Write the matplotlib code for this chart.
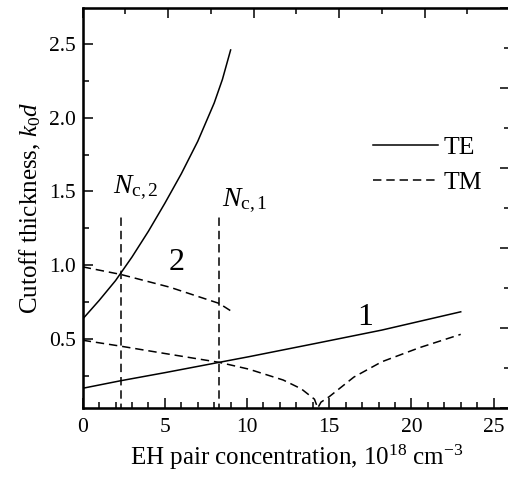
import numpy as np
import matplotlib
matplotlib.use('Agg')
import matplotlib.pyplot as plt
from matplotlib.ticker import MultipleLocator

plt.rcParams['font.family'] = ['Liberation Serif', 'DejaVu Serif']
plt.rcParams['mathtext.fontset'] = 'custom'
plt.rcParams['mathtext.rm'] = 'Liberation Serif'
plt.rcParams['mathtext.it'] = 'Liberation Serif:italic'

# TE mode 1 (lower solid)
te1_x = [0, 2.3, 5.0, 8.3, 10.1, 14.2, 18.2, 23.0]
te1_y = [0.164, 0.215, 0.27, 0.34, 0.378, 0.469, 0.559, 0.683]

# TE mode 2 (upper solid)
te2_x = [0, 1, 2, 3, 4, 5, 6, 7, 8, 8.5, 9.0]
te2_y = [0.634, 0.76, 0.895, 1.055, 1.23, 1.42, 1.62, 1.84, 2.10, 2.26, 2.46]

# TM mode 2 (upper dashed)
tm2_x = [0, 2.3, 5.3, 8.3, 9.0]
tm2_y = [0.988, 0.937, 0.85, 0.74, 0.69]

# TM mode 1 (lower dashed)
tm1_x = [0, 2.3, 5.0, 8.3, 10.1, 12.2, 13.3, 14.1, 14.3, 14.5, 15.0, 16.5, 18.2, 20.5, 23.0]
tm1_y = [0.49, 0.45, 0.40, 0.34, 0.294, 0.22, 0.16, 0.09, 0.03, 0.07, 0.107, 0.24, 0.344, 0.44, 0.53]

# cutoff concentrations
nc2 = 2.3
nc1 = 8.3
nc_top = [1.33, 1.34]

fig = plt.figure(figsize=(5.08, 4.78), dpi=100)
ax = fig.add_axes([0.1628, 0.1464, 0.8412, 0.8369])

lw = 1.1
dash = (0, (5.5, 3.2))
l_te, = ax.plot(te1_x, te1_y, 'k-', lw=lw, label='TE')
ax.plot(te2_x, te2_y, 'k-', lw=lw)
l_tm, = ax.plot(tm1_x, tm1_y, color='k', ls=dash, lw=lw, label='TM')
ax.plot(tm2_x, tm2_y, color='k', ls=dash, lw=lw)
ax.plot([nc2, nc2], [0, nc_top[0]], color='k', ls=dash, lw=lw)
ax.plot([nc1, nc1], [0, nc_top[1]], color='k', ls=dash, lw=lw)

ax.text(1.84, 1.49, r'$N_{\mathrm{c,2}}$', fontsize=20)
ax.text(8.45, 1.40, r'$N_{\mathrm{c,1}}$', fontsize=20)
ax.text(5.71, 0.97, '2', fontsize=23, ha='center')
ax.text(17.2, 0.593, '1', fontsize=23, ha='center')

ax.set_xlim(0, 26)
ax.set_ylim(0.03, 2.745)
ax.xaxis.set_major_locator(MultipleLocator(5))
ax.xaxis.set_minor_locator(MultipleLocator(1))
ax.yaxis.set_major_locator(MultipleLocator(0.5))
ax.yaxis.set_minor_locator(MultipleLocator(0.25))
ax.tick_params(which='both', direction='in', width=1.1, labelsize=15.5)
ax.tick_params(which='major', length=7.5)
ax.tick_params(which='minor', length=4.5)
ax.tick_params(axis='x', pad=7)
ax.tick_params(axis='y', pad=5)
for s in ax.spines.values():
    s.set_linewidth(1.8)

ax.set_xlabel(r'EH pair concentration, 10$^{18}$ cm$^{-3}$', fontsize=18)
ax.set_ylabel(r'Cutoff thickness, $k_0d$', fontsize=18)

# top and right ticks on separate scales
axt = ax.twiny()
axt.set_xlim(0, 1)
axt.xaxis.set_major_locator(MultipleLocator(0.2))
axt.xaxis.set_minor_locator(MultipleLocator(0.1))
axt.tick_params(which='both', direction='in', width=1.1, labeltop=False)
axt.tick_params(which='major', length=7.5)
axt.tick_params(which='minor', length=4.5)
axr = ax.twinx()
axr.set_ylim(0, 1)
axr.yaxis.set_major_locator(MultipleLocator(0.2))
axr.yaxis.set_minor_locator(MultipleLocator(0.1))
axr.tick_params(which='both', direction='in', width=1.1, labelright=False)
axr.tick_params(which='major', length=7.5)
axr.tick_params(which='minor', length=4.5)

ax.legend(handles=[l_te, l_tm], loc='upper left', bbox_to_anchor=(0.68, 0.68),
          frameon=False, fontsize=18.5, handlelength=2.5, handletextpad=0.25,
          labelspacing=0.45, borderpad=0, borderaxespad=0)

fig.savefig('out.png', dpi=100)
